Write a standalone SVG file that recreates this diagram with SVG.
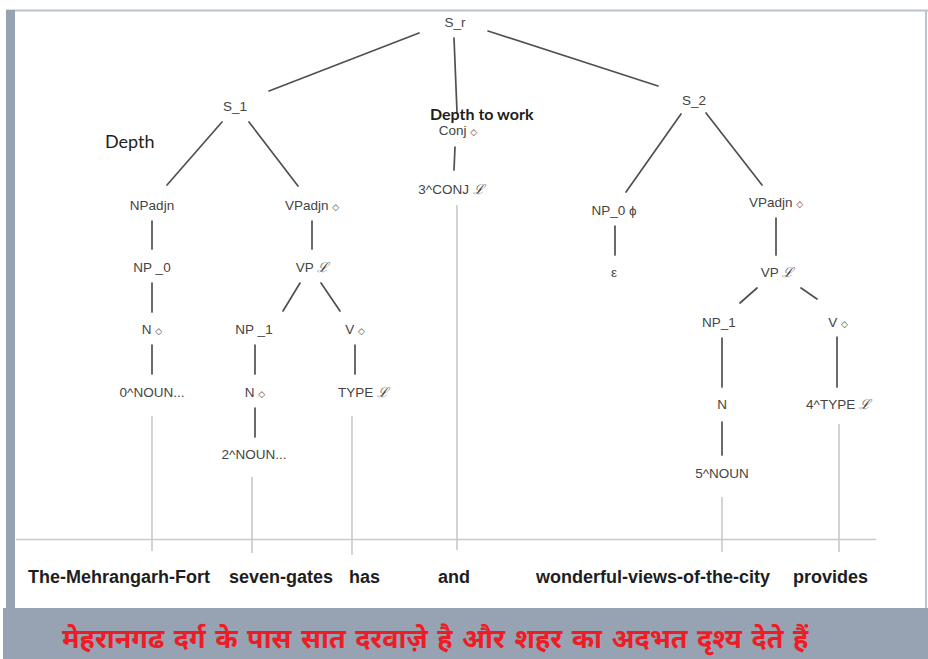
<svg xmlns="http://www.w3.org/2000/svg" width="928" height="659" viewBox="0 0 928 659">
<style>
.lab{font-family:"Liberation Sans",Arial,sans-serif;font-size:13.5px;fill:#444;text-anchor:middle}
.sym{font-family:"DejaVu Sans",sans-serif;font-size:9px;fill:#444}
.word{font-family:"Liberation Sans",Arial,sans-serif;font-size:18px;font-weight:bold;fill:#1e1e1e}
.note{font-family:Lato,"Open Sans",sans-serif;fill:#1e1e1e}
.edge{stroke:#505050;stroke-width:1.7;fill:none;stroke-linecap:round}
.lead{stroke:#c9c9c9;stroke-width:1.6;fill:none}
.hindi{font-family:"Noto Sans Devanagari","Lohit Devanagari","Noto Sans","Mangal",sans-serif;font-size:27px;font-weight:bold;fill:#ee1c24;word-spacing:2.5px}
</style>
<rect x="0" y="0" width="928" height="659" fill="#ffffff"/>
<g id="frame">
<line x1="6" y1="10.5" x2="928" y2="10.5" stroke="#b9c1cc" stroke-width="2"/>
<line x1="926" y1="10" x2="926" y2="608" stroke="#bcc3cd" stroke-width="2"/>
<rect x="6" y="10" width="9" height="598" fill="#97a3b3"/>
<rect x="3" y="608" width="925" height="51" fill="#97a3b3"/>
</g>
<g id="connectors">
<line class="edge" x1="419" y1="33" x2="269" y2="91"/>
<line class="edge" x1="488" y1="31" x2="658" y2="86"/>
<line class="edge" x1="454" y1="38" x2="457" y2="112"/>
<line class="edge" x1="455" y1="147" x2="454" y2="170"/>
<line class="edge" x1="222" y1="122" x2="167" y2="185"/>
<line class="edge" x1="249" y1="122" x2="298" y2="186"/>
<line class="edge" x1="152" y1="221" x2="152" y2="249"/>
<line class="edge" x1="152" y1="283" x2="152" y2="312"/>
<line class="edge" x1="152" y1="345" x2="152" y2="374"/>
<line class="edge" x1="312" y1="221" x2="312" y2="249"/>
<line class="edge" x1="300" y1="283" x2="283" y2="311"/>
<line class="edge" x1="321" y1="283" x2="340" y2="311"/>
<line class="edge" x1="255" y1="345" x2="255" y2="374"/>
<line class="edge" x1="255" y1="408" x2="255" y2="437"/>
<line class="edge" x1="355" y1="345" x2="355" y2="374"/>
<line class="edge" x1="681" y1="114" x2="626" y2="192"/>
<line class="edge" x1="706" y1="113" x2="762" y2="185"/>
<line class="edge" x1="615" y1="226" x2="615" y2="255"/>
<line class="edge" x1="776" y1="218" x2="776" y2="255"/>
<line class="edge" x1="757" y1="288" x2="740" y2="303"/>
<line class="edge" x1="801" y1="288" x2="817" y2="299"/>
<line class="edge" x1="722" y1="338" x2="722" y2="387"/>
<line class="edge" x1="722" y1="422" x2="722" y2="455"/>
<line class="edge" x1="837" y1="337" x2="837" y2="387"/>
<line class="lead" x1="16" y1="539.5" x2="876" y2="539.5"/>
<line class="lead" x1="152" y1="416" x2="152" y2="551"/>
<line class="lead" x1="252" y1="477" x2="252" y2="553"/>
<line class="lead" x1="352" y1="416" x2="352" y2="555"/>
<line class="lead" x1="457" y1="205" x2="457" y2="550"/>
<line class="lead" x1="722" y1="497" x2="722" y2="552"/>
<line class="lead" x1="839" y1="424" x2="839" y2="552"/>
</g>
<g id="n-Sr"><text class="lab" x="455" y="27">S_r</text></g>
<g id="n-S1"><text class="lab" x="235" y="111">S_1</text></g>
<g id="n-S2"><text class="lab" x="694" y="105">S_2</text></g>
<g id="n-Conj"><text class="lab" x="458" y="135">Conj <tspan class="sym">◇</tspan></text></g>
<g id="n-3CONJ"><text class="lab" x="451" y="194">3^CONJ <tspan font-style="italic">ℒ</tspan></text></g>
<g id="n-NPadjn"><text class="lab" x="152" y="210">NPadjn</text></g>
<g id="n-VPadjn1"><text class="lab" x="312" y="210">VPadjn <tspan class="sym">◇</tspan></text></g>
<g id="n-NP0a"><text class="lab" x="152" y="272">NP _0</text></g>
<g id="n-N1"><text class="lab" x="152" y="334">N <tspan class="sym">◇</tspan></text></g>
<g id="n-0NOUN"><text class="lab" x="152" y="397">0^NOUN...</text></g>
<g id="n-VP1"><text class="lab" x="312" y="272">VP <tspan font-style="italic">ℒ</tspan></text></g>
<g id="n-NP1a"><text class="lab" x="254" y="334">NP _1</text></g>
<g id="n-V1"><text class="lab" x="355" y="334">V <tspan class="sym">◇</tspan></text></g>
<g id="n-N2"><text class="lab" x="255" y="397">N <tspan class="sym">◇</tspan></text></g>
<g id="n-TYPE"><text class="lab" x="363" y="397">TYPE <tspan font-style="italic">ℒ</tspan></text></g>
<g id="n-2NOUN"><text class="lab" x="254" y="459">2^NOUN...</text></g>
<g id="n-NP0b"><text class="lab" x="614" y="215">NP_0 <tspan>ϕ</tspan></text></g>
<g id="n-eps"><text class="lab" x="614" y="277">ε</text></g>
<g id="n-VPadjn2"><text class="lab" x="776" y="207">VPadjn <tspan class="sym">◇</tspan></text></g>
<g id="n-VP2"><text class="lab" x="777" y="277">VP <tspan font-style="italic">ℒ</tspan></text></g>
<g id="n-NP1b"><text class="lab" x="719" y="327">NP_1</text></g>
<g id="n-V2"><text class="lab" x="838" y="327">V <tspan class="sym">◇</tspan></text></g>
<g id="n-N3"><text class="lab" x="722" y="409">N</text></g>
<g id="n-4TYPE"><text class="lab" x="838" y="409">4^TYPE <tspan font-style="italic">ℒ</tspan></text></g>
<g id="n-5NOUN"><text class="lab" x="722" y="478">5^NOUN</text></g>
<g id="notes">
<text class="note" x="105" y="148" font-size="18">Depth</text>
<text class="note" x="430" y="120" font-size="16" font-weight="bold">Depth to work</text>
</g>
<g id="words">
<text class="word" x="28" y="583">The-Mehrangarh-Fort</text>
<text class="word" x="229" y="583">seven-gates</text>
<text class="word" x="349" y="583">has</text>
<text class="word" x="438" y="583">and</text>
<text class="word" x="536" y="583">wonderful-views-of-the-city</text>
<text class="word" x="793" y="583">provides</text>
</g>
<g id="caption">
<text class="hindi" x="62" y="648">मेहरानगढ दर्ग के पास सात दरवाज़े है और शहर का अदभत दृश्य देते हैं</text>
</g>
</svg>
